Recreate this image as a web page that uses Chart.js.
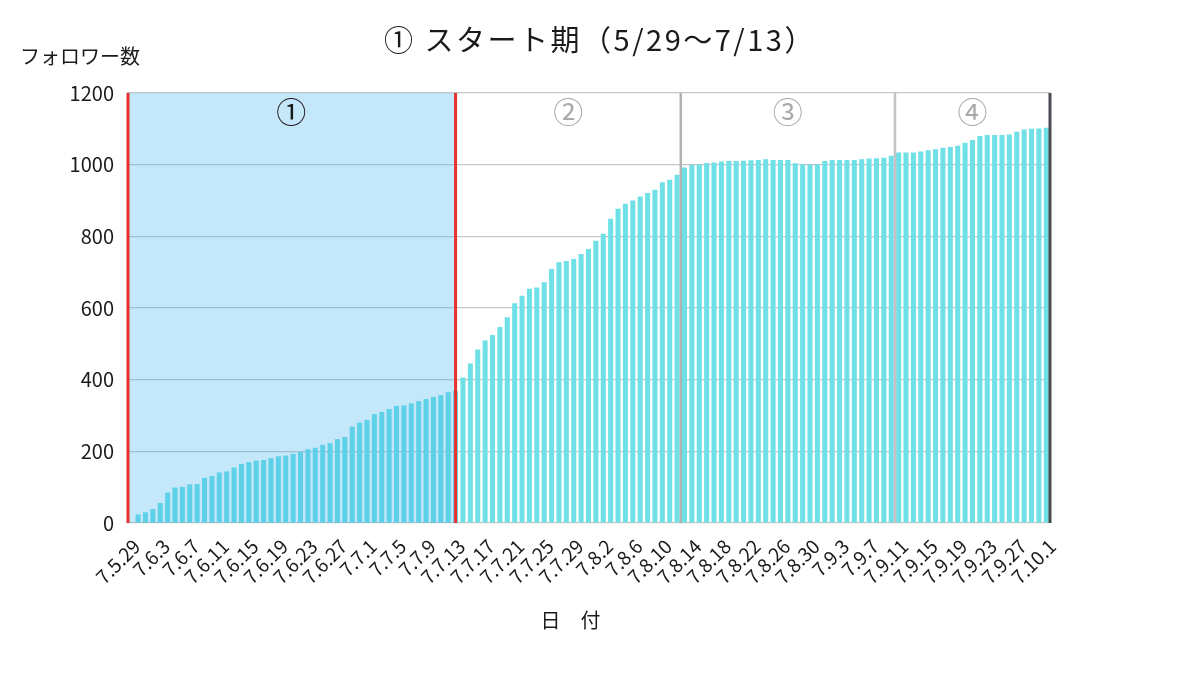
<!DOCTYPE html>
<html lang="ja">
<head>
<meta charset="utf-8">
<title>フォロワー数</title>
<script src="https://cdn.jsdelivr.net/npm/chart.js@4.4.1/dist/chart.umd.min.js"></script>
<style>
  html, body { margin: 0; padding: 0; background: #ffffff; }
  #wrap { width: 1200px; height: 675px; }
</style>
</head>
<body>
<div id="wrap"><canvas id="myChart" width="1200" height="675"></canvas></div>
<script>
// 日付 (5/31 は元データに無い)
var days = [
  "7.5.29", "7.5.30",
  "7.6.1", "7.6.2", "7.6.3", "7.6.4", "7.6.5", "7.6.6", "7.6.7", "7.6.8", "7.6.9", "7.6.10",
  "7.6.11", "7.6.12", "7.6.13", "7.6.14", "7.6.15", "7.6.16", "7.6.17", "7.6.18", "7.6.19", "7.6.20",
  "7.6.21", "7.6.22", "7.6.23", "7.6.24", "7.6.25", "7.6.26", "7.6.27", "7.6.28", "7.6.29", "7.6.30",
  "7.7.1", "7.7.2", "7.7.3", "7.7.4", "7.7.5", "7.7.6", "7.7.7", "7.7.8", "7.7.9", "7.7.10",
  "7.7.11", "7.7.12", "7.7.13", "7.7.14", "7.7.15", "7.7.16", "7.7.17", "7.7.18", "7.7.19", "7.7.20",
  "7.7.21", "7.7.22", "7.7.23", "7.7.24", "7.7.25", "7.7.26", "7.7.27", "7.7.28", "7.7.29", "7.7.30", "7.7.31",
  "7.8.1", "7.8.2", "7.8.3", "7.8.4", "7.8.5", "7.8.6", "7.8.7", "7.8.8", "7.8.9", "7.8.10",
  "7.8.11", "7.8.12", "7.8.13", "7.8.14", "7.8.15", "7.8.16", "7.8.17", "7.8.18", "7.8.19", "7.8.20",
  "7.8.21", "7.8.22", "7.8.23", "7.8.24", "7.8.25", "7.8.26", "7.8.27", "7.8.28", "7.8.29", "7.8.30", "7.8.31",
  "7.9.1", "7.9.2", "7.9.3", "7.9.4", "7.9.5", "7.9.6", "7.9.7", "7.9.8", "7.9.9", "7.9.10",
  "7.9.11", "7.9.12", "7.9.13", "7.9.14", "7.9.15", "7.9.16", "7.9.17", "7.9.18", "7.9.19", "7.9.20",
  "7.9.21", "7.9.22", "7.9.23", "7.9.24", "7.9.25", "7.9.26", "7.9.27", "7.9.28", "7.9.29", "7.9.30",
  "7.10.1"
];

// フォロワー数
var followers = [
  0,
  24, 30, 39, 56, 85, 99, 101, 108, 109, 126,
  131, 141, 144, 155, 165, 170, 174, 176, 181, 186,
  188, 193, 198, 206, 210, 218, 223, 234, 240, 269,
  280, 288, 304, 310, 318, 327, 328, 334, 340, 346,
  352, 357, 365, 369,
  406, 445, 484, 509, 525, 547,
  574, 613, 634, 654, 657, 672, 709, 728, 731, 737,
  751, 765, 788, 807, 849, 877, 891, 900, 911, 921,
  930, 951, 958, 972, 992, 1000,
  1001, 1005, 1006, 1009,
  1010, 1010, 1011, 1012, 1013, 1015, 1013, 1013, 1013, 1004,
  1001, 1001, 1001, 1010, 1013, 1013, 1013, 1013, 1015, 1017,
  1018, 1019, 1025, 1034, 1034, 1034, 1037, 1040, 1043, 1047,
  1049, 1053, 1061, 1069, 1080, 1083, 1083, 1083, 1084, 1092,
  1098, 1100, 1101, 1103
];

var yTicks = [0, 200, 400, 600, 800, 1000, 1200];
var periodNames = ["①", "②", "③", "④"];

var FONT = "'Noto Sans CJK JP', 'Noto Sans', sans-serif";

// 期間の区切り線・網掛け・文字
var periodPlugin = {
  id: "periods",
  afterDatasetsDraw: function(chart) {
    var ctx = chart.ctx;
    var xs = chart.scales.x;
    var area = chart.chartArea;
    var half = (xs.getPixelForValue(1) - xs.getPixelForValue(0)) / 2;

    var xRed = xs.getPixelForValue(44);
    var xG1 = xs.getPixelForValue(74) + half;
    var xG2 = xs.getPixelForValue(103) + half;
    var bounds = [area.left, xRed, xG1, xG2, area.right];

    ctx.save();
    // ① の網掛け
    ctx.fillStyle = "rgba(60, 175, 240, 0.30)";
    ctx.fillRect(area.left, area.top, xRed - area.left, area.bottom - area.top);

    function vline(x, color, w) {
      ctx.beginPath();
      ctx.strokeStyle = color;
      ctx.lineWidth = w;
      ctx.moveTo(x, area.top);
      ctx.lineTo(x, area.bottom);
      ctx.stroke();
    }
    vline(area.left + 1, "#e8302c", 3);
    vline(xRed, "#e8302c", 3);
    vline(xG1, "#b2b2b2", 2.5);
    vline(xG2, "#c4c4c4", 2.5);
    vline(area.right, "#4a4d52", 3);

    ctx.font = "30px " + FONT;
    ctx.textAlign = "center";
    ctx.textBaseline = "middle";
    for (var i = 0; i < periodNames.length; i++) {
      ctx.fillStyle = i === 0 ? "#1a1a1a" : "#a8a8a8";
      ctx.fillText(periodNames[i], (bounds[i] + bounds[i + 1]) / 2, area.top + 19);
    }
    ctx.restore();
  },
  afterDraw: function(chart) {
    var ctx = chart.ctx;
    var area = chart.chartArea;
    ctx.save();
    ctx.fillStyle = "#1a1a1a";
    ctx.textBaseline = "middle";
    ctx.font = "29px " + FONT;
    ctx.letterSpacing = "2.5px";
    ctx.textAlign = "center";
    ctx.fillText("① スタート期（5/29〜7/13）", chart.width / 2, 40);
    ctx.letterSpacing = "0px";
    ctx.font = "20px " + FONT;
    ctx.textAlign = "left";
    ctx.fillText("フォロワー数", 20, 56);
    ctx.textAlign = "center";
    ctx.fillText("日　付", (area.left + area.right) / 2 - 18, 620);
    ctx.restore();
  }
};

var canvas = document.getElementById("myChart").getContext("2d");
var chart = new Chart(canvas, {
  type: "bar",
  data: {
    labels: days,
    datasets: [{
      label: "フォロワー数",
      data: followers,
      backgroundColor: "rgb(110, 224, 230)",
      borderWidth: 0,
      categoryPercentage: 1.0,
      barPercentage: 0.68
    }]
  },
  options: {
    responsive: false,
    animation: false,
    layout: { padding: { left: 10, right: 150, top: 93, bottom: 82 } },
    plugins: {
      legend: { display: false },
      tooltip: { enabled: false },
      title: { display: false }
    },
    scales: {
      x: {
        grid: { display: false, drawTicks: false },
        border: { display: false },
        ticks: {
          autoSkip: false,
          minRotation: 45,
          maxRotation: 45,
          padding: 12,
          labelOffset: 6,
          color: "#1a1a1a",
          font: { family: FONT, size: 19 },
          callback: function(v, i) { return i % 4 === 0 ? days[i] : ""; }
        },
        afterFit: function(s) { s.height = 70; }
      },
      y: {
        min: 0,
        max: 1200,
        afterBuildTicks: function(s) { s.ticks = yTicks.map(function(v) { return { value: v }; }); },
        grid: { color: "#c6c6c6", lineWidth: 1.2, drawTicks: false },
        border: { display: false },
        ticks: {
          padding: 13,
          color: "#1a1a1a",
          font: { family: FONT, size: 20 },
          callback: function(v) { return String(v); }
        },
        afterFit: function(s) { s.width = 117; }
      }
    }
  },
  plugins: [periodPlugin]
});
</script>
</body>
</html>
